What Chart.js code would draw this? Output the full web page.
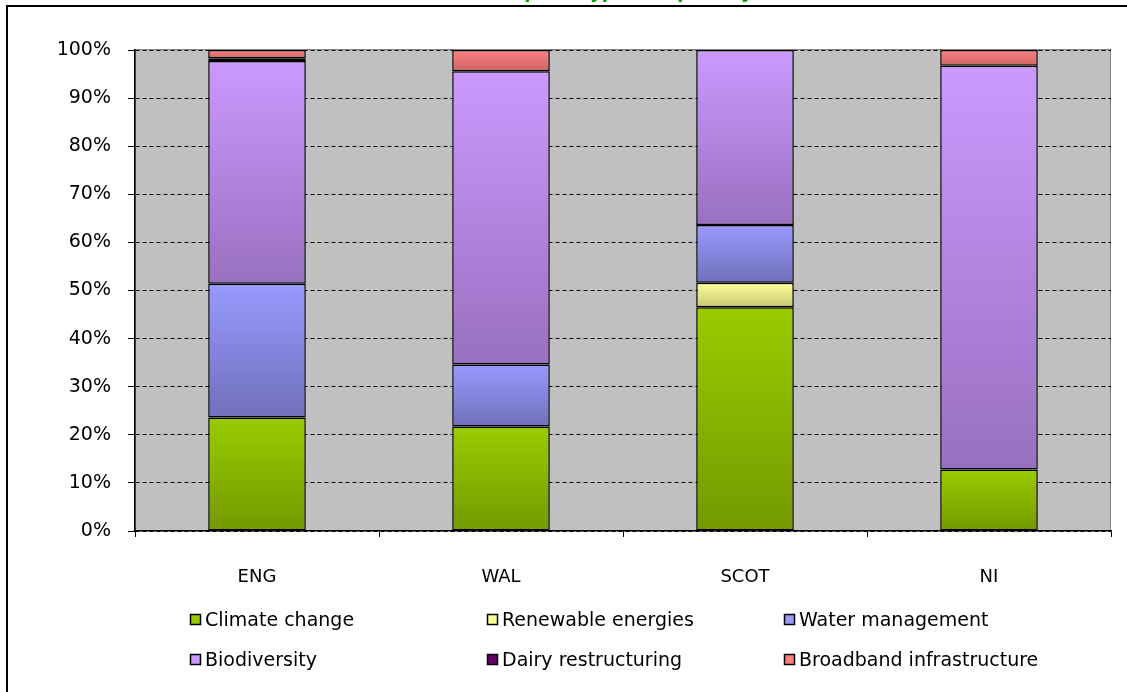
<!DOCTYPE html>
<html>
<head>
<meta charset="utf-8">
<script src="https://cdn.jsdelivr.net/npm/chart.js@4/dist/chart.umd.min.js"></script>
<style>
  html, body { margin: 0; padding: 0; background: #ffffff; }
  #wrap { position: relative; width: 1127px; height: 692px; overflow: hidden; }
  canvas { display: block; }
</style>
</head>
<body>
<div id="wrap"><canvas id="chart" width="1127" height="692"></canvas></div>
<script>
// Share of Health Check spend per priority, by country (percent of total)
const categories = ['ENG', 'WAL', 'SCOT', 'NI'];
const climateChange = [23.6, 21.7, 46.5, 12.8];
const renewableEnergies = [0, 0, 5.1, 0];
const waterManagement = [27.8, 12.9, 12.0, 0];
const biodiversity = [46.3, 61.0, 36.4, 83.9];
const dairyRestructuring = [0.6, 0, 0, 0];
const broadbandInfrastructure = [1.7, 4.4, 0, 3.3];
const yTicks = [0, 10, 20, 30, 40, 50, 60, 70, 80, 90, 100];
const titleText = 'Health Check spend type and priority';

const seriesDefs = [
  { label: 'Climate change', data: climateChange, top: '#99CC00', bottom: '#739900' },
  { label: 'Renewable energies', data: renewableEnergies, top: '#FFFF99', bottom: '#C8C878' },
  { label: 'Water management', data: waterManagement, top: '#9999FF', bottom: '#7070BB' },
  { label: 'Biodiversity', data: biodiversity, top: '#CC99FF', bottom: '#9970C0' },
  { label: 'Dairy restructuring', data: dairyRestructuring, top: '#660066', bottom: '#4D004D' },
  { label: 'Broadband infrastructure', data: broadbandInfrastructure, top: '#FF8080', bottom: '#CC6666' }
];

const FONT = '"DejaVu Sans", Verdana, sans-serif';

// vertical gradient spanning a single stacked segment
function segmentFill(ctx, top, bottom) {
  if (ctx.type !== 'data') return top;
  const chart = ctx.chart;
  const y = chart.scales.y;
  if (!y || !chart.chartArea) return top;
  const di = ctx.dataIndex, dsi = ctx.datasetIndex;
  let start = 0;
  for (let k = 0; k < dsi; k++) start += chart.data.datasets[k].data[di] || 0;
  const end = start + (chart.data.datasets[dsi].data[di] || 0);
  const y0 = y.getPixelForValue(end), y1 = y.getPixelForValue(start);
  if (y1 - y0 < 1) return top;
  const g = chart.ctx.createLinearGradient(0, y0, 0, y1);
  g.addColorStop(0, top);
  g.addColorStop(1, bottom);
  return g;
}

// grey plot background with a thin border
const plotBackground = {
  id: 'plotBackground',
  beforeDraw(chart) {
    const { ctx, chartArea: a } = chart;
    ctx.save();
    ctx.fillStyle = '#C0C0C0';
    ctx.fillRect(a.left, a.top, a.right - a.left, a.bottom - a.top);
    ctx.strokeStyle = '#808080';
    ctx.lineWidth = 1;
    ctx.strokeRect(a.left + 0.5, a.top - 0.5, a.right - a.left - 1, a.bottom - a.top);
    ctx.restore();
  }
};

// three-column legend grid, title and outer frame
const gridLegend = {
  id: 'gridLegend',
  afterDraw(chart) {
    const { ctx } = chart;
    ctx.save();
    const cols = [190, 487, 784];
    const rows = [620, 660];
    ctx.font = '19px ' + FONT;
    ctx.textBaseline = 'middle';
    ctx.textAlign = 'left';
    seriesDefs.forEach((s, i) => {
      const x = cols[i % 3], y = rows[Math.floor(i / 3)];
      ctx.fillStyle = s.top;
      ctx.fillRect(x, y - 6, 11, 11);
      ctx.strokeStyle = '#000000';
      ctx.lineWidth = 1.5;
      ctx.strokeRect(x + 0.5, y - 5.5, 10, 10);
      ctx.fillStyle = '#000000';
      ctx.fillText(s.label, x + 15, y + 1);
    });

    ctx.font = 'bold 18px ' + FONT;
    ctx.fillStyle = '#00A000';
    ctx.textAlign = 'center';
    ctx.textBaseline = 'alphabetic';
    ctx.fillText(titleText, 563, -2);

    ctx.fillStyle = '#000000';
    ctx.fillRect(6, 5, 1121, 2);
    ctx.fillRect(6, 5, 2, 687);
    ctx.restore();
  }
};

new Chart(document.getElementById('chart'), {
  type: 'bar',
  data: {
    labels: categories,
    datasets: seriesDefs.map(s => ({
      label: s.label,
      data: s.data,
      backgroundColor: ctx => segmentFill(ctx, s.top, s.bottom),
      borderColor: '#000000',
      borderWidth: 1.5,
      borderSkipped: false,
      categoryPercentage: 1,
      barPercentage: 0.4
    }))
  },
  options: {
    responsive: false,
    animation: false,
    devicePixelRatio: 1,
    layout: { padding: { top: 50, right: 16, left: 0, bottom: 0 } },
    plugins: {
      legend: { display: false },
      title: { display: false },
      tooltip: { enabled: false }
    },
    scales: {
      x: {
        stacked: true,
        afterFit(scale) { scale.height = 161; },
        grid: {
          offset: true,
          drawOnChartArea: false,
          drawTicks: true,
          tickLength: 6,
          tickColor: '#000000',
          tickWidth: 1
        },
        border: { display: true, color: '#000000', width: 1.5 },
        ticks: {
          color: '#000000',
          font: { family: FONT, size: 18 },
          padding: 30
        }
      },
      y: {
        stacked: true,
        min: 0,
        max: 100,
        afterFit(scale) { scale.width = 135; },
        afterBuildTicks(scale) { scale.ticks = yTicks.map(v => ({ value: v })); },
        grid: {
          color: '#000000',
          lineWidth: 1,
          drawTicks: true,
          tickLength: 7,
          tickColor: '#000000',
          tickBorderDash: []
        },
        border: { display: true, color: '#000000', width: 1.5, dash: [4, 3] },
        ticks: {
          color: '#000000',
          font: { family: FONT, size: 19 },
          padding: 17,
          callback: v => v + '%'
        }
      }
    }
  },
  plugins: [plotBackground, gridLegend]
});
</script>
</body>
</html>
